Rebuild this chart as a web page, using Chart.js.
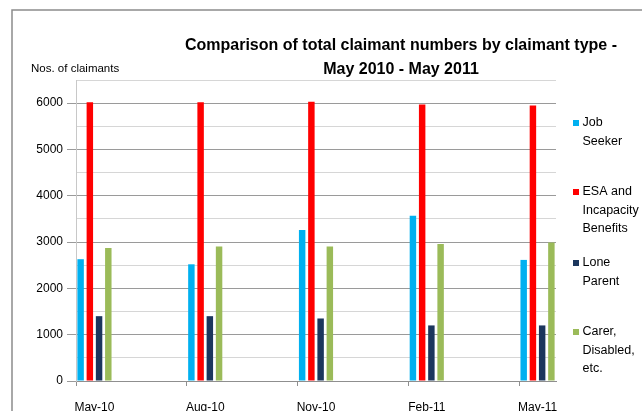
<!DOCTYPE html>
<html>
<head>
<meta charset="utf-8">
<script src="https://cdn.jsdelivr.net/npm/chart.js@4.4.1/dist/chart.umd.min.js"></script>
<style>
  html, body { margin: 0; padding: 0; background: #fff; overflow: hidden; }
  #wrap { width: 642px; height: 411px; }
</style>
</head>
<body>
<div id="wrap"><canvas id="chart" width="642" height="411"></canvas></div>
<script>
// months on the date axis (monthly slots), and the months that have data
const months = ["May-10", "Jun-10", "Jul-10", "Aug-10", "Sep-10", "Oct-10", "Nov-10",
  "Dec-10", "Jan-11", "Feb-11", "Mar-11", "Apr-11", "May-11"];
const dataMonths = ["May-10", "Aug-10", "Nov-10", "Feb-11", "May-11"];

// claimant numbers
const jobSeeker = [2630, 2520, 3260, 3570, 2615];
const esaIncapacity = [6020, 6020, 6030, 5970, 5950];
const loneParent = [1400, 1400, 1350, 1200, 1200];
const carerDisabled = [2870, 2905, 2905, 2960, 2990];

const seriesNames = ["Job Seeker", "ESA and Incapacity Benefits", "Lone Parent", "Carer, Disabled, etc."];
const seriesColors = ["#00b0f0", "#ff0000", "#1b365d", "#9bbb59"];
const titleLines = ["Comparison of total claimant numbers by claimant type -", "May 2010 - May 2011"];
const yAxisTitle = "Nos. of claimants";

const FONT = '"Liberation Sans", Arial, sans-serif';

function toPoints(values) {
  return dataMonths.map((m, i) => ({ x: m, y: values[i] }));
}

// simple word wrap for legend labels
function wrapText(ctx, text, maxWidth) {
  const words = text.split(" ");
  const lines = [];
  let line = "";
  for (const w of words) {
    const test = line ? line + " " + w : w;
    if (line && ctx.measureText(test).width > maxWidth) {
      lines.push(line);
      line = w;
    } else {
      line = test;
    }
  }
  if (line) lines.push(line);
  return lines;
}

// background, outer frame, title, axis title and legend
const decorations = {
  id: "decorations",
  beforeDraw(chart) {
    const c = chart.ctx;
    c.save();
    c.fillStyle = "#fff";
    c.fillRect(0, 0, chart.width, chart.height);
    c.strokeStyle = "#8c8c8c";
    c.lineWidth = 1.5;
    c.beginPath();
    c.moveTo(12, chart.height + 2);
    c.lineTo(12, 10);
    c.lineTo(chart.width + 2, 10);
    c.stroke();
    c.restore();
  },
  afterDraw(chart) {
    const c = chart.ctx;
    c.save();
    c.fillStyle = "#000";
    c.textBaseline = "middle";

    c.textAlign = "center";
    c.font = "bold 16px " + FONT;
    titleLines.forEach((t, i) => c.fillText(t, 401, 46 + i * 23.5));

    c.textAlign = "left";
    c.font = "11.5px " + FONT;
    c.fillText(yAxisTitle, 31, 69);

    c.font = "12.5px " + FONT;
    const legendY = [123, 192, 263, 332];
    chart.data.datasets.forEach((ds, i) => {
      const lines = wrapText(c, ds.label, 58);
      c.fillStyle = ds.backgroundColor;
      c.fillRect(573, legendY[i] - 3, 6, 6);
      c.fillStyle = "#000";
      lines.forEach((l, j) => c.fillText(l, 582.5, legendY[i] + j * 18.3));
    });
    c.restore();
  }
};

const seriesValues = [jobSeeker, esaIncapacity, loneParent, carerDisabled];

new Chart(document.getElementById("chart"), {
  type: "bar",
  data: {
    labels: months,
    datasets: seriesValues.map((vals, i) => ({
      label: seriesNames[i],
      data: toPoints(vals),
      backgroundColor: seriesColors[i],
      borderWidth: 0,
      categoryPercentage: 1.0,
      barPercentage: 0.7
    }))
  },
  options: {
    responsive: false,
    animation: false,
    devicePixelRatio: 1,
    layout: { padding: { top: 80, right: 86, left: 0, bottom: 0 } },
    plugins: {
      legend: { display: false },
      title: { display: false },
      tooltip: { enabled: false }
    },
    scales: {
      x: {
        type: "category",
        offset: true,
        afterFit(scale) { scale.height = 30; },
        border: { color: "#8f8f8f", width: 1 },
        grid: {
          offset: true,
          drawOnChartArea: false,
          drawTicks: true,
          tickLength: 5,
          tickColor: (ctx) => (ctx.index !== undefined && ctx.index % 3 === 0 && ctx.index < months.length) ? "#8f8f8f" : "rgba(0,0,0,0)"
        },
        ticks: {
          autoSkip: false,
          maxRotation: 0,
          padding: 14,
          color: "#000",
          font: { family: FONT, size: 12 },
          callback: (val, i) => (i % 3 === 0 ? months[i] : "")
        }
      },
      y: {
        min: 0,
        max: 6500,
        afterFit(scale) { scale.width = 76; },
        border: { color: "#c8c8c8", width: 1 },
        grid: {
          color: (ctx) => (ctx.tick && ctx.tick.value % 1000 === 0 ? "#9a9a9a" : "#d6d6d6"),
          tickColor: (ctx) => (ctx.tick && ctx.tick.value % 1000 === 0 ? "#9a9a9a" : "rgba(0,0,0,0)"),
          tickLength: 9,
          lineWidth: 1
        },
        ticks: {
          stepSize: 500,
          padding: 4,
          color: "#000",
          font: { family: FONT, size: 12 },
          callback: (v) => (v % 1000 === 0 ? v : "")
        }
      }
    }
  },
  plugins: [decorations]
});
</script>
</body>
</html>
